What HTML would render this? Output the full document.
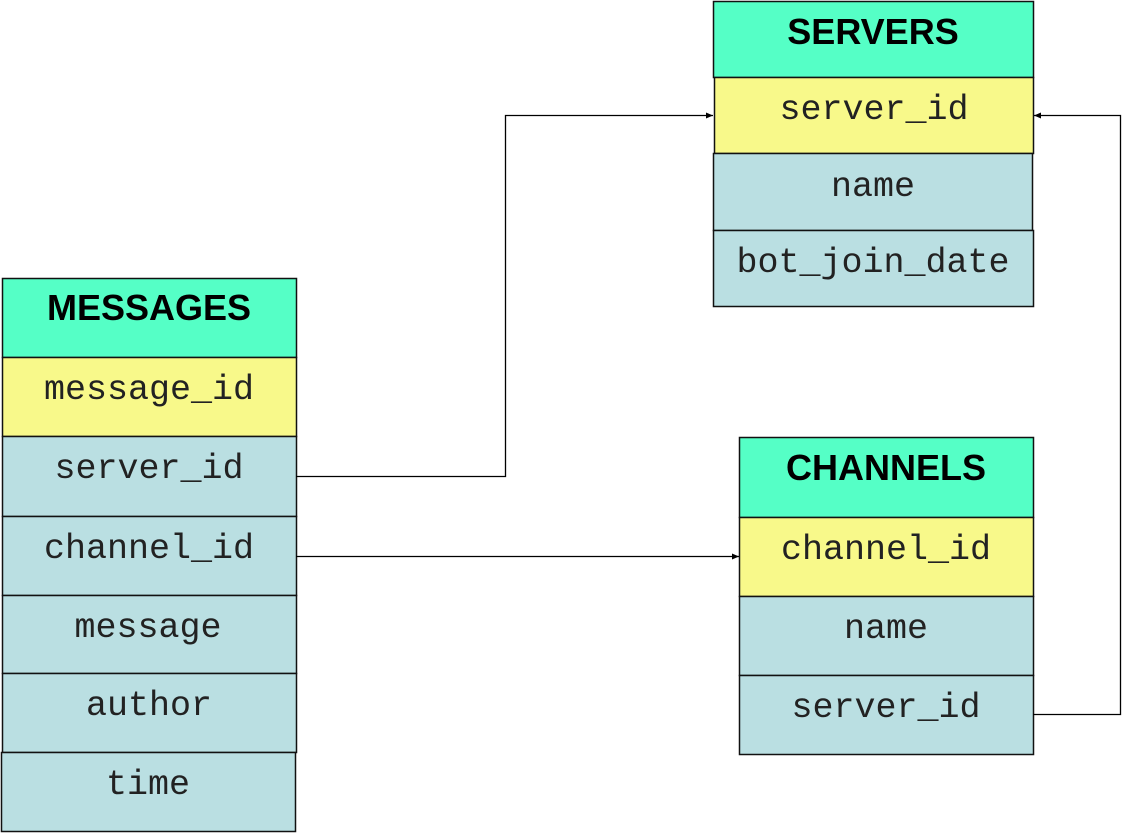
<!DOCTYPE html>
<html><head><meta charset="utf-8"><style>
html,body{margin:0;padding:0;background:#fff;}
svg{display:block}
.t{font-family:"Liberation Sans",Arial,sans-serif;font-weight:bold;font-size:36px;fill:#000;text-anchor:middle}
.m{font-family:"Liberation Mono","Courier New",monospace;font-size:35px;fill:#222;text-anchor:middle}
</style></head><body>
<svg width="1122" height="833" viewBox="0 0 1122 833" xmlns="http://www.w3.org/2000/svg">
<defs>
<marker id="a" markerWidth="8" markerHeight="6" refX="7" refY="3" orient="auto" markerUnits="userSpaceOnUse">
<path d="M0,0 L7,3 L0,6 Z" fill="#000"/></marker>
</defs>
<g stroke="#111" stroke-width="1.5">
<rect x="713.5" y="1.5" width="320" height="76" fill="#55ffc6"/>
<rect x="714.5" y="77.5" width="319" height="76" fill="#f8f98a"/>
<rect x="713.5" y="153.5" width="319" height="77" fill="#badfe2"/>
<rect x="713.5" y="230.5" width="320" height="76" fill="#badfe2"/>
<rect x="2.5" y="278.5" width="294" height="79" fill="#55ffc6"/>
<rect x="2.5" y="357.5" width="294" height="79" fill="#f8f98a"/>
<rect x="2.5" y="436.5" width="294" height="80" fill="#badfe2"/>
<rect x="2.5" y="516.5" width="294" height="79" fill="#badfe2"/>
<rect x="2.5" y="595.5" width="294" height="78" fill="#badfe2"/>
<rect x="2.5" y="673.5" width="294" height="79" fill="#badfe2"/>
<rect x="1.5" y="752.5" width="294" height="79" fill="#badfe2"/>
<rect x="739.5" y="437.5" width="294" height="80" fill="#55ffc6"/>
<rect x="739.5" y="517.5" width="294" height="79" fill="#f8f98a"/>
<rect x="739.5" y="596.5" width="294" height="79" fill="#badfe2"/>
<rect x="739.5" y="675.5" width="294" height="79" fill="#badfe2"/>
</g>
<g fill="none" stroke="#000" stroke-width="1.3">
<polyline points="296,476.5 505.5,476.5 505.5,115.5 713,115.5" marker-end="url(#a)"/>
<polyline points="296,556.5 739,556.5" marker-end="url(#a)"/>
<polyline points="1033,714.5 1120.5,714.5 1120.5,115.5 1034,115.5" marker-end="url(#a)"/>
</g>
<text class="t" x="873" y="44">SERVERS</text>
<text class="m" x="874" y="119">server_id</text>
<text class="m" x="873" y="196">name</text>
<text class="m" x="873" y="272">bot_join_date</text>

<text class="t" x="149" y="320">MESSAGES</text>
<text class="m" x="149" y="399">message_id</text>
<text class="m" x="149" y="478">server_id</text>
<text class="m" x="149" y="558">channel_id</text>
<text class="m" x="148" y="637">message</text>
<text class="m" x="149" y="715">author</text>
<text class="m" x="148" y="794">time</text>

<text class="t" x="886" y="480">CHANNELS</text>
<text class="m" x="886" y="559">channel_id</text>
<text class="m" x="886" y="638">name</text>
<text class="m" x="886" y="717">server_id</text>
</svg>
</body></html>
